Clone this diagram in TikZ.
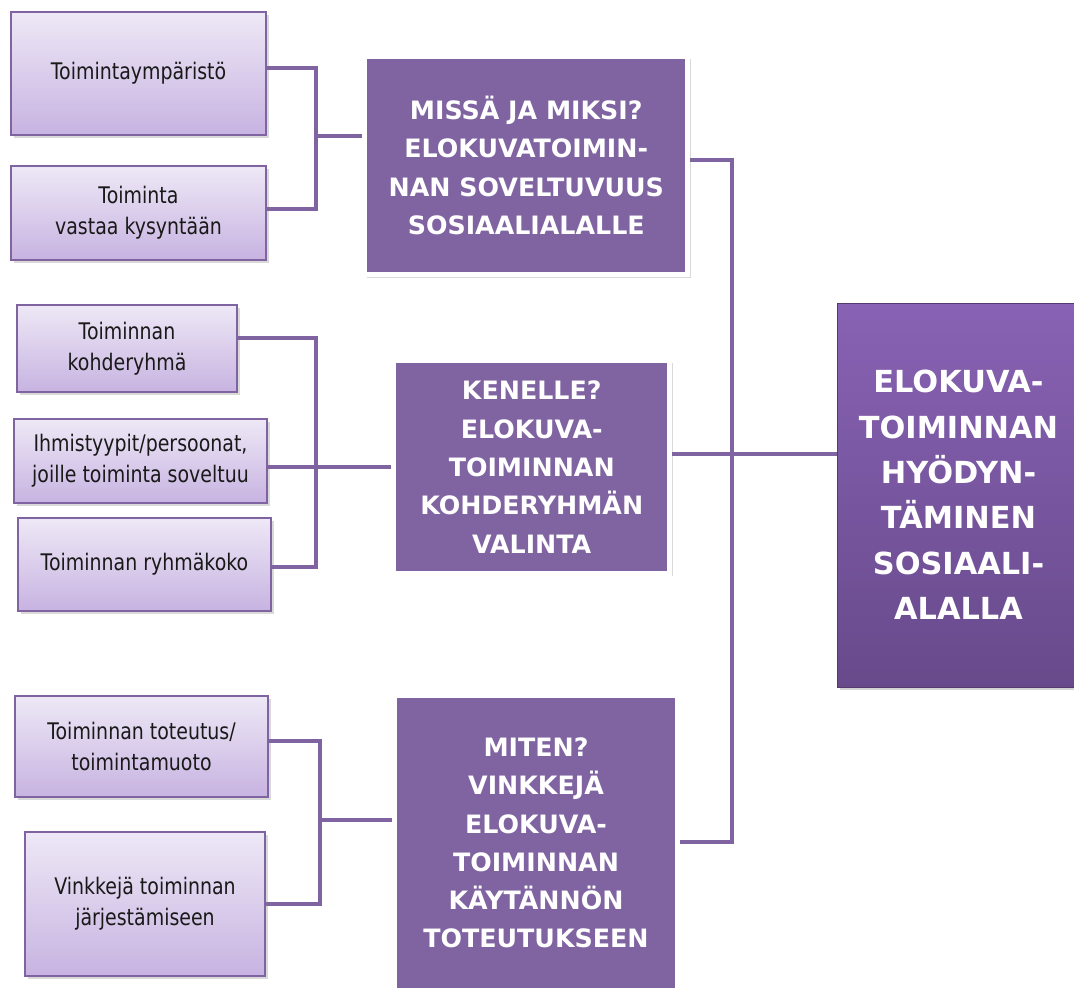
\documentclass[tikz,border=0pt]{standalone}
\usepackage{fontspec}
\setmainfont{DejaVu Sans}
\newfontfamily\boxfont[FakeStretch=0.83]{DejaVu Sans}
\usetikzlibrary{shadows}

\definecolor{violetline}{HTML}{8064A2}
\definecolor{subtop}{HTML}{EEE8F6}
\definecolor{subbottom}{HTML}{C7B3E1}
\definecolor{bigtop}{HTML}{8862B4}
\definecolor{bigbottom}{HTML}{684A8B}

\tikzset{
  subbox/.style={draw=violetline, line width=1pt, top color=subtop, bottom color=subbottom,
    align=center, inner sep=2pt, font=\boxfont\fontsize{13}{17.6}\selectfont, text=black!90,
    drop shadow={opacity=0.3, shadow xshift=1.5pt, shadow yshift=-1.5pt}},
  mainbox/.style={draw=white, line width=0.1cm, fill=violetline, align=center, inner sep=0pt,
    font=\bfseries\fontsize{14.4}{21.8}\selectfont, text=white,
    drop shadow={opacity=0.3, shadow xshift=1.5pt, shadow yshift=-1.5pt}},
  goalbox/.style={top color=bigtop, bottom color=bigbottom, draw=bigbottom!80!black, line width=0.5pt,
    align=center, inner sep=0pt, font=\bfseries\fontsize{17.3}{25.8}\selectfont, text=white,
    drop shadow={opacity=0.35, shadow xshift=1.5pt, shadow yshift=-1.5pt}},
  link/.style={draw=violetline, line width=0.08cm}
}

\begin{document}
\begin{tikzpicture}[x=0.02cm, y=-0.02cm]
    \useasboundingbox (0,0) rectangle (1074,991);

    \node[subbox, minimum width=5.10cm, minimum height=2.46cm] (t1) at (138.5,73.5) {Toimintaympäristö};
    \node[subbox, minimum width=5.10cm, minimum height=1.88cm] (t2) at (138.5,213) {Toiminta\\vastaa kysyntään};
    \node[subbox, minimum width=4.40cm, minimum height=1.74cm] (k1) at (127,348.5) {Toiminnan\\kohderyhmä};
    \node[subbox, minimum width=5.06cm, minimum height=1.68cm] (k2) at (140.5,461) {Ihmistyypit/persoonat,\\joille toiminta soveltuu};
    \node[subbox, minimum width=5.06cm, minimum height=1.86cm] (k3) at (144.5,564.5) {Toiminnan ryhmäkoko};
    \node[subbox, minimum width=5.06cm, minimum height=2.02cm] (m1) at (141.5,746.5) {Toiminnan toteutus/\\toimintamuoto};
    \node[subbox, minimum width=4.80cm, minimum height=2.88cm] (m2) at (145,904) {Vinkkejä toiminnan\\järjestämiseen};

    \node[mainbox, minimum width=6.47cm, minimum height=4.38cm] (A) at (526.25,165.5)
      {MISSÄ JA MIKSI?\\ELOKUVATOIMIN-\\NAN SOVELTUVUUS\\SOSIAALIALALLE};
    \node[mainbox, minimum width=5.53cm, minimum height=4.26cm] (B) at (531.75,467)
      {KENELLE?\\ELOKUVA-\\TOIMINNAN\\KOHDERYHMÄN\\VALINTA};
    \node[mainbox, minimum width=5.66cm, minimum height=5.90cm] (D) at (536,843)
      {MITEN?\\VINKKEJÄ\\ELOKUVA-\\TOIMINNAN\\KÄYTÄNNÖN\\TOTEUTUKSEEN};
    \node[goalbox, minimum width=4.86cm, minimum height=7.68cm] (C) at (958.5,495)
      {ELOKUVA-\\TOIMINNAN\\HYÖDYN-\\TÄMINEN\\SOSIAALI-\\ALALLA};

    \coordinate (jA) at (316,136);
    \coordinate (jB) at (316,467);
    \coordinate (jD) at (320,820);
    \coordinate (rtop) at (732,160);
    \coordinate (rmid) at (732,454);
    \coordinate (rbot) at (732,842);

    \draw[link] ([yshift=0.11cm]t1.east) -| (jA) |- ([yshift=0.08cm]t2.east);
    \draw[link] (jA) -- (A.west |- jA);
    \draw[link] ([yshift=0.21cm]k1.east) -| (jB) |- ([yshift=-0.05cm]k3.east);
    \draw[link] (k2.east |- jB) -- (B.west |- jB);
    \draw[link] ([yshift=0.11cm]m1.east) -| (jD) |- (m2.east);
    \draw[link] (jD) -- (D.west |- jD);

    \draw[link] (A.east |- rtop) -- (rtop) -- (rbot) -- (D.east |- rbot);
    \draw[link] (B.east |- rmid) -- (C.west |- rmid);
\end{tikzpicture}
\end{document}
